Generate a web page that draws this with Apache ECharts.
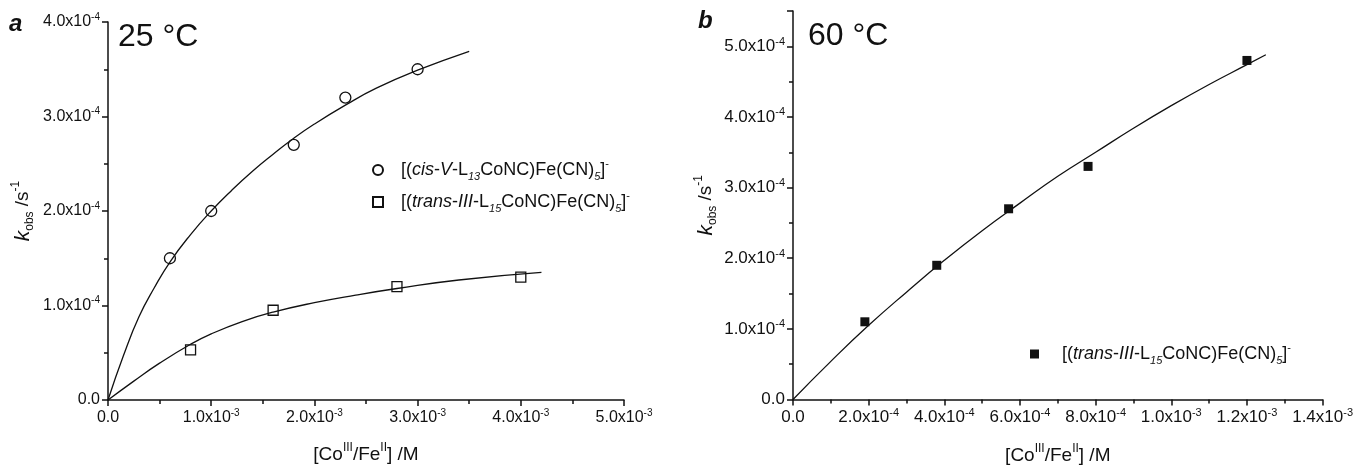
<!DOCTYPE html>
<html lang="en">
<head>
    <meta charset="UTF-8">
    <title>kobs vs [Co/Fe]</title>
    <script src="https://cdn.jsdelivr.net/npm/echarts@6/dist/echarts.min.js"></script>
    <style type="text/css">
        html, body { margin: 0; padding: 0; background: #fff; }
        #main { width: 1356px; height: 470px; }
    </style>
</head>
<body>
<div id="main"></div>
<script type="text/javascript">
    // panel a, 25 °C
    var cisX = [0.6e-3, 1.0e-3, 1.8e-3, 2.3e-3, 3.0e-3];
    var cisK = [1.5e-4, 2.0e-4, 2.7e-4, 3.2e-4, 3.5e-4];
    var transX = [0.8e-3, 1.6e-3, 2.8e-3, 4.0e-3];
    var transK = [0.53e-4, 0.95e-4, 1.2e-4, 1.3e-4];
    // fitted curves
    var cisFitX = [0, 0.15e-3, 0.3e-3, 0.45e-3, 0.6e-3, 0.8e-3, 1.0e-3, 1.2e-3, 1.4e-3, 1.6e-3, 1.8e-3, 2.0e-3, 2.3e-3, 2.6e-3, 3.0e-3, 3.5e-3];
    var cisFitK = [0, 0.47e-4, 0.88e-4, 1.19e-4, 1.46e-4, 1.75e-4, 2.0e-4, 2.22e-4, 2.42e-4, 2.60e-4, 2.77e-4, 2.92e-4, 3.12e-4, 3.30e-4, 3.49e-4, 3.69e-4];
    var transFitX = [0, 0.25e-3, 0.5e-3, 0.8e-3, 1.0e-3, 1.3e-3, 1.6e-3, 2.0e-3, 2.4e-3, 2.8e-3, 3.4e-3, 4.2e-3];
    var transFitK = [0, 0.20e-4, 0.39e-4, 0.59e-4, 0.70e-4, 0.83e-4, 0.93e-4, 1.03e-4, 1.11e-4, 1.18e-4, 1.27e-4, 1.35e-4];

    // panel b, 60 °C
    var hotX = [1.9e-4, 3.8e-4, 5.7e-4, 7.8e-4, 1.2e-3];
    var hotK = [1.1e-4, 1.9e-4, 2.7e-4, 3.3e-4, 4.8e-4];
    var hotFitX = [0, 1e-4, 2e-4, 3e-4, 4e-4, 5e-4, 6e-4, 7e-4, 8e-4, 9e-4, 10e-4, 11e-4, 12e-4, 12.5e-4];
    var hotFitK = [0, 0.54e-4, 1.05e-4, 1.52e-4, 1.97e-4, 2.39e-4, 2.78e-4, 3.16e-4, 3.50e-4, 3.84e-4, 4.16e-4, 4.46e-4, 4.74e-4, 4.88e-4];

    function zip(a, b) {
        return a.map(function (v, i) { return [v, b[i]]; });
    }

    var FONT = '"Liberation Sans", Arial, sans-serif';
    var INK = '#111';

    function sciLabel(step) {
        return function (v) {
            if (Math.abs(v) < 1e-12) return '{m|0.0}';
            if (Math.abs(v / step - Math.round(v / step)) > 1e-6) return '';
            var e = Math.floor(Math.log10(v) + 1e-9);
            var m = (v / Math.pow(10, e)).toFixed(1);
            return '{m|' + m + 'x10}{e|' + e + '}';
        };
    }

    function labelRich(size) {
        return {
            m: { fontSize: size, lineHeight: 20, fontFamily: FONT, color: INK },
            e: { fontSize: Math.round(size * 0.65), lineHeight: 10, verticalAlign: 'top', fontFamily: FONT, color: INK }
        };
    }

    var nameRich = {
        t: { fontSize: 19, lineHeight: 26, fontFamily: FONT, color: INK },
        k: { fontSize: 21, lineHeight: 26, fontStyle: 'italic', fontFamily: FONT, color: INK },
        p: { fontSize: 12, lineHeight: 12, verticalAlign: 'top', fontFamily: FONT, color: INK },
        b: { fontSize: 12, lineHeight: 12, verticalAlign: 'bottom', fontFamily: FONT, color: INK }
    };
    var xName = '{t|[Co}{p|III}{t|/Fe}{p|II}{t|] /M}';
    var yName = '{k|k}{b|obs}{t| /s}{p|-1}';

    function legendRich(gap) {
        return {
            g: { width: gap, lineHeight: 24 },
            t: { fontSize: 18, lineHeight: 24, fontFamily: FONT, color: INK },
            i: { fontSize: 18, lineHeight: 24, fontStyle: 'italic', fontFamily: FONT, color: INK },
            b: { fontSize: 11, lineHeight: 12, verticalAlign: 'bottom', fontStyle: 'italic', fontFamily: FONT, color: INK },
            p: { fontSize: 11, lineHeight: 12, verticalAlign: 'top', fontFamily: FONT, color: INK }
        };
    }
    var legendText = {
        'cis': '{g|}{t|[(}{i|cis}{t|-}{i|V}{t|-L}{b|13}{t|CoNC)Fe(CN)}{b|5}{t|]}{p|-}',
        'trans25': '{g|}{t|[(}{i|trans}{t|-}{i|III}{t|-L}{b|15}{t|CoNC)Fe(CN)}{b|5}{t|]}{p|-}',
        'trans60': '{g|}{t|[(}{i|trans}{t|-}{i|III}{t|-L}{b|15}{t|CoNC)Fe(CN)}{b|5}{t|]}{p|-}'
    };

    function valueAxis(idx, max, interval, labelSize, extra) {
        var ax = {
            type: 'value',
            gridIndex: idx,
            min: 0,
            max: max,
            interval: interval,
            splitLine: { show: false },
            axisLine: { show: true, onZero: false, lineStyle: { color: INK, width: 1.5 } },
            axisTick: { show: true, length: 6, lineStyle: { color: INK, width: 1.5 } },
            minorTick: { show: true, splitNumber: 2, length: 4, lineStyle: { color: INK, width: 1.5 } },
            axisLabel: { formatter: sciLabel(interval), rich: labelRich(labelSize) },
            nameLocation: 'middle',
            nameTextStyle: { rich: nameRich }
        };
        for (var k in extra) ax[k] = extra[k];
        return ax;
    }

    var chart = echarts.init(document.getElementById('main'));
    chart.setOption({
        animation: false,
        backgroundColor: '#fff',
        textStyle: { fontFamily: FONT },
        grid: [
            { left: 108, top: 22, width: 516, height: 378 },
            { left: 793, top: 11, width: 535, height: 394 }
        ],
        xAxis: [
            valueAxis(0, 5e-3, 1e-3, 16, { name: xName, nameGap: 42 }),
            valueAxis(1, 1.4e-3, 2e-4, 17, { name: xName, nameGap: 43 })
        ],
        yAxis: [
            valueAxis(0, 4e-4, 1e-4, 16, { name: yName, nameGap: 72, nameRotate: 90 }),
            valueAxis(1, 5.5e-4, 1e-4, 17, { name: yName, nameGap: 74, nameRotate: 90 })
        ],
        legend: [
            {
                data: ['cis', 'trans25'],
                orient: 'vertical',
                left: 367,
                top: 153,
                itemWidth: 10,
                itemHeight: 10,
                itemGap: 8,
                selectedMode: false,
                formatter: function (n) { return legendText[n]; },
                textStyle: { rich: legendRich(13) }
            },
            {
                data: ['trans60'],
                orient: 'vertical',
                left: 1025,
                top: 337,
                itemWidth: 9,
                itemHeight: 9,
                selectedMode: false,
                formatter: function (n) { return legendText[n]; },
                textStyle: { rich: legendRich(18) }
            }
        ],
        graphic: [
            { type: 'text', x: 9, y: 24, style: { text: 'a', font: 'italic bold 24px ' + FONT, fill: INK, verticalAlign: 'middle' } },
            { type: 'text', x: 698, y: 21, style: { text: 'b', font: 'italic bold 24px ' + FONT, fill: INK, verticalAlign: 'middle' } },
            { type: 'text', x: 118, y: 37, style: { text: '25 °C', font: '32px ' + FONT, fill: INK, verticalAlign: 'middle' } },
            { type: 'text', x: 808, y: 36, style: { text: '60 °C', font: '32px ' + FONT, fill: INK, verticalAlign: 'middle' } }
        ],
        series: [
            {
                name: 'cisFit', type: 'line', xAxisIndex: 0, yAxisIndex: 0,
                data: zip(cisFitX, cisFitK), showSymbol: false, smooth: 0.5, silent: true,
                lineStyle: { color: INK, width: 1.3 }
            },
            {
                name: 'transFit', type: 'line', xAxisIndex: 0, yAxisIndex: 0,
                data: zip(transFitX, transFitK), showSymbol: false, smooth: 0.5, silent: true,
                lineStyle: { color: INK, width: 1.3 }
            },
            {
                name: 'cis', type: 'scatter', xAxisIndex: 0, yAxisIndex: 0,
                data: zip(cisX, cisK), symbol: 'circle', symbolSize: 11,
                itemStyle: { color: 'rgba(255,255,255,0)', borderColor: INK, borderWidth: 1.3, opacity: 1 }
            },
            {
                name: 'trans25', type: 'scatter', xAxisIndex: 0, yAxisIndex: 0,
                data: zip(transX, transK), symbol: 'rect', symbolSize: 10,
                itemStyle: { color: 'rgba(255,255,255,0)', borderColor: INK, borderWidth: 1.3, opacity: 1 }
            },
            {
                name: 'hotFit', type: 'line', xAxisIndex: 1, yAxisIndex: 1,
                data: zip(hotFitX, hotFitK), showSymbol: false, smooth: 0.5, silent: true,
                lineStyle: { color: INK, width: 1.3 }
            },
            {
                name: 'trans60', type: 'scatter', xAxisIndex: 1, yAxisIndex: 1,
                data: zip(hotX, hotK), symbol: 'rect', symbolSize: 9,
                itemStyle: { color: INK, opacity: 1 }
            }
        ]
    });
</script>
</body>
</html>
